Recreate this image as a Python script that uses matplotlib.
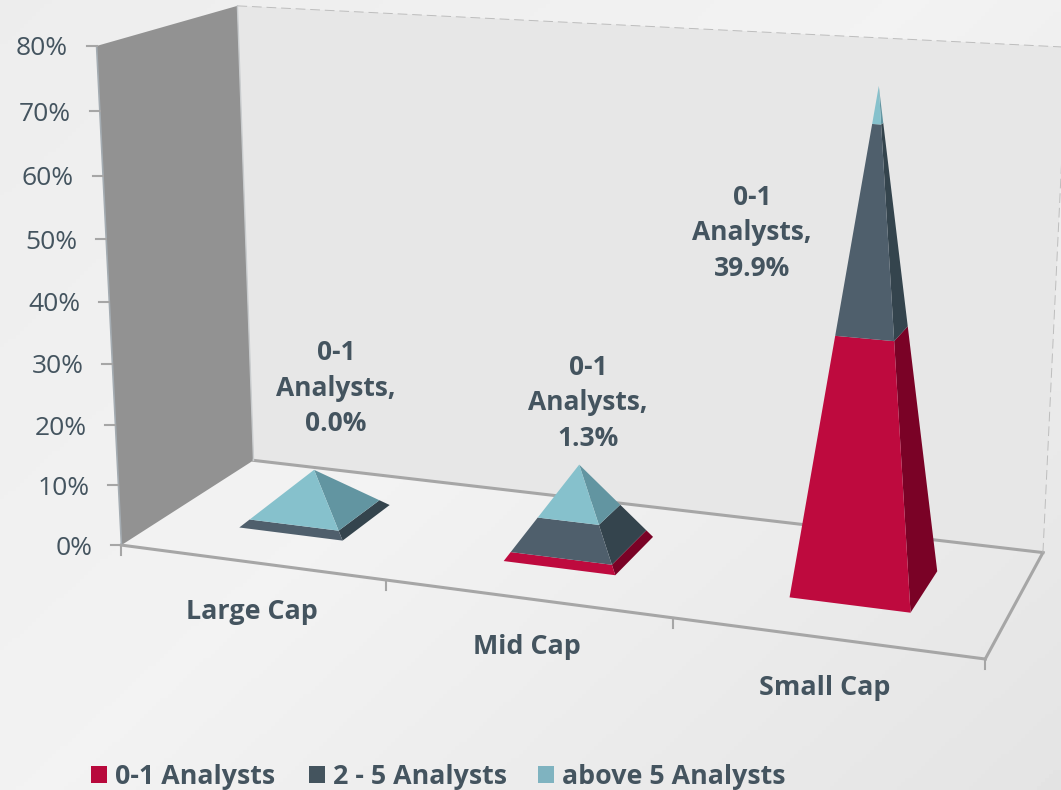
import numpy as np
import matplotlib
matplotlib.use("Agg")
import matplotlib.pyplot as plt
from matplotlib.patches import Polygon

# values in percent
categories = ["Large Cap", "Mid Cap", "Small Cap"]
low = [0.0, 1.3, 39.9]
mid = [1.1, 5.0, 31.2]
high = [6.9, 7.7, 5.5]
series_names = ["0-1 Analysts", "2 - 5 Analysts", "above 5 Analysts"]
y_ticks = [0, 10, 20, 30, 40, 50, 60, 70, 80]

plt.rcParams["font.family"] = ["Open Sans", "DejaVu Sans"]
text_col = "#44545F"
front_cols = ["#BE0A3E", "#4F5F6C", "#86C1CC"]
side_cols = ["#7A0226", "#34444D", "#6295A1"]
legend_cols = ["#B8093C", "#44545E", "#7FB3C0"]

# camera: world (category, depth, percent) -> picture pixels
world = np.array([[0, 0, 0], [1, 0, 0], [2, 0, 0], [3, 0, 0], [0, 1, 0], [3, 1, 0],
                  [0, 0, 80], [0, 1, 80], [3, 1, 80]], float)
image = np.array([[122, 545], [386, 580], [674, 619], [985, 658], [253, 460], [1043, 553],
                  [96, 46], [238, 6], [1067, 47]], float)
A, b = [], []
for (x, y, z), (u, v) in zip(world, image):
    A.append([x, y, z, 1, 0, 0, 0, 0, -u * x, -u * y, -u * z])
    A.append([0, 0, 0, 0, x, y, z, 1, -v * x, -v * y, -v * z])
    b += [u, v]
p = np.linalg.lstsq(np.array(A), np.array(b), rcond=None)[0]
P = np.append(p, 1).reshape(3, 4)


def proj(x, y, z):
    q = P @ np.array([x, y, z, 1.0])
    return q[0] / q[2], q[1] / q[2]


fig = plt.figure(figsize=(10.61, 7.90), dpi=100)
ax = fig.add_axes([0, 0, 1, 1])
ax.set_xlim(0, 1061)
ax.set_ylim(790, 0)
ax.axis("off")

# background, brightest along a diagonal band
yy, xx = np.mgrid[0:790:4, 0:1061:4]
d = (xx - 300) * 0.673 + (yy - 560) * 0.74
shade = np.where(d < 0, 0.95 + 0.02 * d / 575, 0.95 - 0.05 * d / 600)
ax.imshow(shade, cmap="gray", vmin=0, vmax=1, extent=[0, 1061, 790, 0], aspect="auto", zorder=0)

# walls
ax.add_patch(Polygon([proj(0, 1, 0), proj(3, 1, 0), proj(3, 1, 80), proj(0, 1, 80)], fc="#E7E7E7", ec="none", zorder=1))
ax.add_patch(Polygon([proj(0, 0, 0), proj(0, 1, 0), proj(0, 1, 80), proj(0, 0, 80)], fc="#929292", ec="none", zorder=1))

grey = "#A6A6A6"
for a, c in [((0, 0, 0), (3, 0, 0)), ((3, 0, 0), (3, 1, 0)), ((0, 1, 0), (3, 1, 0))]:
    ax.plot(*zip(proj(*a), proj(*c)), color=grey, lw=2.2, zorder=2)
ax.plot(*zip(proj(0, 0, 0), proj(0, 0, 80)), color="#A4ACB2", lw=1.2, zorder=2)
ax.plot(*zip(proj(0, 1, 0), proj(0, 1, 80)), color="#C9CCCE", lw=1.0, zorder=2)
ax.plot(*zip(proj(0, 1, 80), proj(3, 1, 80)), color="#BDBDBD", lw=0.7, ls=(0, (10, 5)), zorder=2)
ax.plot(*zip(proj(3, 1, 0), proj(3, 1, 80)), color="#BDBDBD", lw=0.7, ls=(0, (10, 5)), zorder=2)

for t in y_ticks:
    u, v = proj(0, 0, t)
    ax.plot([u - 10, u], [v, v], color=grey, lw=1.5, zorder=2)
    ax.text(u - 29, v + 3, f"{t}%", ha="right", va="center", fontsize=19, color=text_col)
for i in range(4):
    u, v = proj(i, 0, 0)
    ax.plot([u, u], [v, v + 10], color=grey, lw=1.5, zorder=2)

half = 0.2
for i in range(3):
    cx = i + 0.5
    cy = 0.5
    total = low[i] + mid[i] + high[i]
    fl = (cx - half, cy - half)
    fr = (cx + half, cy - half)
    br = (cx + half, cy + half)
    start = 0.0
    for val, fc, sc in zip([low[i], mid[i], high[i]], front_cols, side_cols):
        stop = start + val

        def corner(c, h):
            s = h / total
            return proj(c[0] + (cx - c[0]) * s, c[1] + (cy - c[1]) * s, h)
        ax.add_patch(Polygon([corner(fr, start), corner(br, start), corner(br, stop), corner(fr, stop)], fc=sc, ec="none", zorder=3))
        ax.add_patch(Polygon([corner(fl, start), corner(fr, start), corner(fr, stop), corner(fl, stop)], fc=fc, ec="none", zorder=3))
        start = stop

label_pos = [(336, 388), (588, 403), (752, 233)]
for i, (lx, ly) in enumerate(label_pos):
    ax.text(lx, ly, f"0-1\nAnalysts,\n{low[i]:.1f}%", ha="center", va="center", fontsize=19,
            fontweight="bold", color=text_col, linespacing=1.41)

cat_pos = [(252, 612), (527, 647), (825, 688)]
for name, (lx, ly) in zip(categories, cat_pos):
    ax.text(lx, ly, name, ha="center", va="center", fontsize=19.4, fontweight="bold", color=text_col)

for name, col, sx in zip(series_names, legend_cols, [91, 309, 538]):
    ax.add_patch(Polygon([(sx, 766), (sx + 16, 766), (sx + 16, 783), (sx, 783)], fc=col, ec="none"))
    ax.text(sx + 24, 777, name, ha="left", va="center", fontsize=19.3, fontweight="bold", color=text_col)

fig.savefig("out.png", dpi=100)
